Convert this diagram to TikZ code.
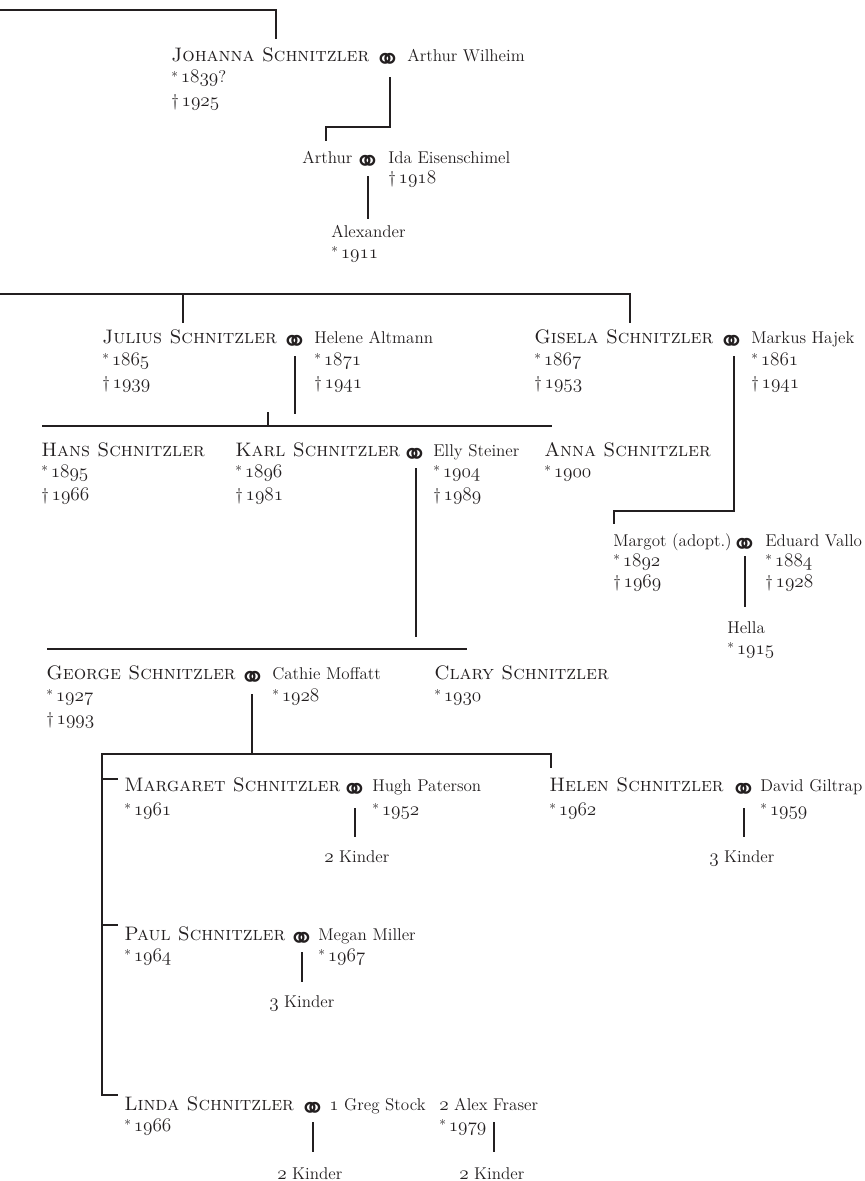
\documentclass[tikz,border=0pt]{standalone}
\usepackage{fontspec}
\newfontfamily\dejavu{DejaVu Sans}
\definecolor{ink}{HTML}{231F20}
\newcommand\fs{\fontsize{12.8pt}{15pt}\selectfont}
\newcommand\fsn{\fontsize{14.65pt}{17pt}\selectfont}
\newcommand\osn[1]{{\fontsize{13.4pt}{15pt}\usefont{OML}{lmm}{m}{it}#1}}
\newcommand\bstar{\raisebox{1.2pt}{\fontsize{10pt}{10pt}\selectfont *}}
\newcommand\born[1]{\bstar\,\osn{#1}}
\newcommand\died[1]{\textdagger\,\osn{#1}}
\tikzset{
  nm/.style={anchor=base west, inner sep=0pt, text=ink, font=\fsn\scshape},
  tx/.style={anchor=base west, inner sep=0pt, text=ink, font=\fs},
  mar/.style={anchor=base, inner sep=0pt, text=ink, font=\dejavu\fontsize{24pt}{24pt}\selectfont},
  ln/.style={line width=1.3pt, draw=ink, line cap=rect}
}
\begin{document}
\begin{tikzpicture}[x=0.75pt,y=-0.75pt]
\useasboundingbox (0,0) rectangle (864,1181);

% ---------- Johanna ----------
\node[nm] (jo) at (171,62) {Johanna Schnitzler};
\node[mar] (jom) at (388,71) {⚭};
\node[tx] (josp) at (407,62) {Arthur Wilheim};
\node[tx] (job) at (171,83) {\born{1839}?};
\node[tx] (jod) at (171,106) {\died{1925}};

\node[tx] (ar) at (302,163) {Arthur};
\node[mar] (arm) at (368,172) {⚭};
\node[tx] (arsp) at (388,163) {Ida Eisenschimel};
\node[tx] (arspd) at (388,183) {\died{1918}};

\node[tx] (al) at (331,237) {Alexander};
\node[tx] (alb) at (331,258) {\born{1911}};

% ---------- Julius / Gisela ----------
\node[nm] (ju) at (102,343) {Julius Schnitzler};
\node[mar] (jum) at (295,352) {⚭};
\node[tx] (jusp) at (314,343) {Helene Altmann};
\node[tx] (jub) at (102,365) {\born{1865}};
\node[tx] (jud) at (102,388) {\died{1939}};
\node[tx] (juspb) at (314,365) {\born{1871}};
\node[tx] (juspd) at (314,388) {\died{1941}};

\node[nm] (gi) at (534,343) {Gisela Schnitzler};
\node[mar] (gim) at (732,352) {⚭};
\node[tx] (gisp) at (751,343) {Markus Hajek};
\node[tx] (gib) at (534,365) {\born{1867}};
\node[tx] (gid) at (534,388) {\died{1953}};
\node[tx] (gispb) at (751,365) {\born{1861}};
\node[tx] (gispd) at (751,388) {\died{1941}};

% ---------- Hans / Karl / Anna ----------
\node[nm] (ha) at (41,456) {Hans Schnitzler};
\node[tx] (hab) at (41,477) {\born{1895}};
\node[tx] (had) at (41,500) {\died{1966}};

\node[nm] (ka) at (235,456) {Karl Schnitzler};
\node[mar] (kam) at (415,465) {⚭};
\node[tx] (kasp) at (433,456) {Elly Steiner};
\node[tx] (kab) at (235,477) {\born{1896}};
\node[tx] (kad) at (235,500) {\died{1981}};
\node[tx] (kaspb) at (433,477) {\born{1904}};
\node[tx] (kaspd) at (433,500) {\died{1989}};

\node[nm] (an) at (544,456) {Anna Schnitzler};
\node[tx] (anb) at (544,477) {\born{1900}};

% ---------- Margot ----------
\node[tx] (ma) at (613,546) {Margot (adopt.)};
\node[mar] (mam) at (745,555) {⚭};
\node[tx] (masp) at (765,546) {Eduard Vallo};
\node[tx] (mab) at (613,566) {\born{1892}};
\node[tx] (mad) at (613,587) {\died{1969}};
\node[tx] (maspb) at (765,566) {\born{1884}};
\node[tx] (maspd) at (765,587) {\died{1928}};

\node[tx] (he) at (727,633) {Hella};
\node[tx] (heb) at (727,654) {\born{1915}};

% ---------- George / Clary ----------
\node[nm] (ge) at (46,679) {George Schnitzler};
\node[mar] (gem) at (253,688) {⚭};
\node[tx] (gesp) at (272,679) {Cathie Moffatt};
\node[tx] (geb) at (46,701) {\born{1927}};
\node[tx] (ged) at (46,724) {\died{1993}};
\node[tx] (gespb) at (272,701) {\born{1928}};

\node[nm] (cl) at (434,679) {Clary Schnitzler};
\node[tx] (clb) at (434,701) {\born{1930}};

% ---------- Margaret / Helen ----------
\node[nm] (mg) at (124,791) {Margaret Schnitzler};
\node[mar] (mgm) at (355,800) {⚭};
\node[tx] (mgsp) at (372,791) {Hugh Paterson};
\node[tx] (mgb) at (124,815) {\born{1961}};
\node[tx] (mgspb) at (372,815) {\born{1952}};
\node[tx] (mgk) at (324,862) {\osn{2} Kinder};

\node[nm] (hl) at (549,791) {Helen Schnitzler};
\node[mar] (hlm) at (744,800) {⚭};
\node[tx] (hlsp) at (760,791) {David Giltrap};
\node[tx] (hlb) at (549,815) {\born{1962}};
\node[tx] (hlspb) at (760,815) {\born{1959}};
\node[tx] (hlk) at (709,862) {\osn{3} Kinder};

% ---------- Paul ----------
\node[nm] (pa) at (124,940) {Paul Schnitzler};
\node[mar] (pam) at (302,949) {⚭};
\node[tx] (pasp) at (318,940) {Megan Miller};
\node[tx] (pab) at (124,961) {\born{1964}};
\node[tx] (paspb) at (318,961) {\born{1967}};
\node[tx] (pak) at (269,1007) {\osn{3} Kinder};

% ---------- Linda ----------
\node[nm] (li) at (124,1110) {Linda Schnitzler};
\node[mar] (lim) at (313,1119) {⚭};
\node[tx] (lisp1) at (329,1110) {\osn{1} Greg Stock};
\node[tx] (lisp2) at (439,1110) {\osn{2} Alex Fraser};
\node[tx] (lib) at (124,1131) {\born{1966}};
\node[tx] (lisp2b) at (439,1131) {\born{1979}};
\node[tx] (lik1) at (277,1179) {\osn{2} Kinder};
\node[tx] (lik2) at (459,1179) {\osn{2} Kinder};

% ---------- connectors ----------
% top
\coordinate (t0) at (0,10);
\coordinate (t1) at (276,38);
\draw[ln] (t0) -| (t1);
% Johanna -> Arthur
\coordinate (a0) at (390,78);
\coordinate (a1) at (326,140);
\draw[ln] (a0) -- (390,127) -| (a1);
% Arthur -> Alexander
\draw[ln] (368,177) -- (368,218);
% generation 2 bar
\coordinate (g0) at (0,294);
\coordinate (gJ) at (183,322);
\coordinate (gG) at (630,322);
\draw[ln] (g0) -| (gG);
\draw[ln] (183,294) -- (gJ);
% Julius -> children
\coordinate (j0) at (295,357);
\coordinate (jH) at (43,426);
\coordinate (jK) at (268,426);
\coordinate (jA) at (551,426);
\draw[ln] (j0) -- (295,413);
\draw[ln] (jH) |- (jA);
\draw[ln] (268,413) -- (jK);
% Gisela -> Margot
\coordinate (s0) at (734,357);
\coordinate (s1) at (614,523);
\draw[ln] (s0) -- (734,511) -| (s1);
% Margot -> Hella
\draw[ln] (745,557) -- (745,606);
% Karl -> children
\coordinate (k0) at (416,469);
\coordinate (kG) at (48,649);
\coordinate (kC) at (466,649);
\draw[ln] (k0) -- (416,636);
\draw[ln] (kG) |- (kC);
% George -> children
\coordinate (e0) at (252,695);
\coordinate (eH) at (551,767);
\coordinate (eL) at (117,1095);
\draw[ln] (e0) -- (252,754);
\draw[ln] (eL) -| (102,754) -| (eH);
\draw[ln] (102,779) -- (117,779);
\draw[ln] (102,925) -- (117,925);
% grandchildren
\draw[ln] (355,809) -- (355,836);
\draw[ln] (744,809) -- (744,836);
\draw[ln] (302,953) -- (302,981);
\draw[ln] (313,1123) -- (313,1151);
\draw[ln] (494,1123) -- (494,1151);
\end{tikzpicture}
\end{document}
